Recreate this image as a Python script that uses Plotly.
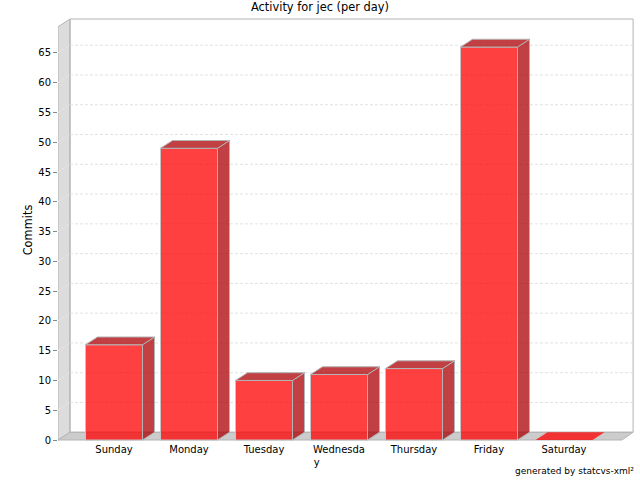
import plotly.graph_objects as go

days = ["Sunday", "Monday", "Tuesday", "Wednesday", "Thursday", "Friday", "Saturday"]
tick_labels = ["Sunday", "Monday", "Tuesday", "Wednesda<br>y" + "\u00a0" * 14, "Thursday", "Friday", "Saturday"]
commits = [16, 49, 10, 11, 12, 66, 0]
y_ticks = list(range(0, 70, 5))

BAR_W = 0.76
DX = 0.16      # 3D depth along x (12 px)
DY = 1.3       # 3D depth along y (8 px)
XMIN, XMAX = -0.7467, 6.9333
XFRONT_R = 6.773
YMIN, YMAX = -0.336, 70.87
GRID = "#e2e2e2"
EDGE = "#b4b4b4"
FRONT = "rgba(255,0,0,0.75)"
DARK = "rgba(172,0,6,0.75)"
FONT = "DejaVu Sans"

fig = go.Figure()
xs = list(range(len(days)))

# front faces
fig.add_trace(go.Bar(
    x=xs, y=commits, width=BAR_W,
    marker=dict(color=FRONT, line=dict(color=["#c4c4c4" if c else "rgba(0,0,0,0)" for c in commits], width=1)),
    hoverinfo="x+y", showlegend=False,
))

# side and top faces
for x, v in zip(xs, commits):
    l, r = x - BAR_W / 2, x + BAR_W / 2
    edge = EDGE if v else "rgba(0,0,0,0)"
    width = 1 if v else 0
    if v:
        fig.add_trace(go.Scatter(
            x=[r, r + DX, r + DX, r, r], y=[0, DY, v + DY, v, 0],
            mode="lines", fill="toself", fillcolor=DARK,
            line=dict(color=edge, width=width), hoverinfo="skip", showlegend=False))
    fig.add_trace(go.Scatter(
        x=[l, l + DX, r + DX, r, l], y=[v, v + DY, v + DY, v, v],
        mode="lines", fill="toself", fillcolor=DARK if v else FRONT,
        line=dict(color=edge, width=width), hoverinfo="skip", showlegend=False))

# walls, floor, gridlines
def poly(pts, fill, line=EDGE, w=1):
    path = "M " + " L ".join(f"{a},{b}" for a, b in pts) + " Z"
    return dict(type="path", path=path, xref="x", yref="y", layer="below",
                fillcolor=fill, line=dict(color=line, width=w))

BL = XMIN + DX
TOP_BACK = 70.7
shapes = [
    poly([(XMIN, 0), (BL, DY), (BL, TOP_BACK), (XMIN, TOP_BACK - DY)], "#dcdcdc"),
    poly([(XMIN, 0), (BL, DY), (XMAX - 0.012, DY), (XFRONT_R, 0)], "#cccccc"),
    poly([(BL, DY), (BL, TOP_BACK), (XMAX - 0.012, TOP_BACK), (XMAX - 0.012, DY)], "rgba(255,255,255,0)"),
]
for t in y_ticks[1:]:
    shapes.append(dict(type="line", xref="x", yref="y", layer="below", x0=XMIN, y0=t, x1=BL, y1=t + DY,
                       line=dict(color="#e8e8e8", width=1, dash="3px,2px")))
    shapes.append(dict(type="line", xref="x", yref="y", layer="below", x0=BL, y0=t + DY, x1=XMAX - 0.012, y1=t + DY,
                       line=dict(color=GRID, width=1, dash="3px,2px")))

fig.update_layout(
    width=640, height=480, autosize=False,
    margin=dict(l=58, r=6, t=18, b=38),
    paper_bgcolor="white", plot_bgcolor="white",
    shapes=shapes,
    showlegend=False,
    font=dict(family=FONT, size=10, color="#000000"),
    title=dict(text="Activity for jec (per day)", x=0.5, xanchor="center", y=0.985, yanchor="middle",
               font=dict(family=FONT, size=11.4, color="#000000"), pad=dict(t=0, b=0)),
    xaxis=dict(range=[XMIN, XMAX], tickmode="array", tickvals=xs, ticktext=tick_labels,
               showgrid=False, zeroline=False, showline=False,
               ticks="", ticklen=0,
               tickfont=dict(family=FONT, size=10)),
    yaxis=dict(range=[YMIN, YMAX], tickmode="array", tickvals=y_ticks,
               showgrid=False, zeroline=False, showline=False,
               ticks="outside", ticklen=4, tickcolor="#888888",
               tickfont=dict(family=FONT, size=10),
               title=dict(text="Commits", font=dict(family=FONT, size=11.4), standoff=3)),
    annotations=[dict(text="generated by statcvs-xml²", xref="paper", yref="paper",
                      x=1.0, y=0, xanchor="right", yanchor="top", yshift=-22, xshift=2,
                      showarrow=False, font=dict(family=FONT, size=9, color="#000000"))],
)

fig.write_html("out.html", config={"displayModeBar": False},
               post_script="document.body.style.margin='0';document.body.style.overflow='hidden';")
